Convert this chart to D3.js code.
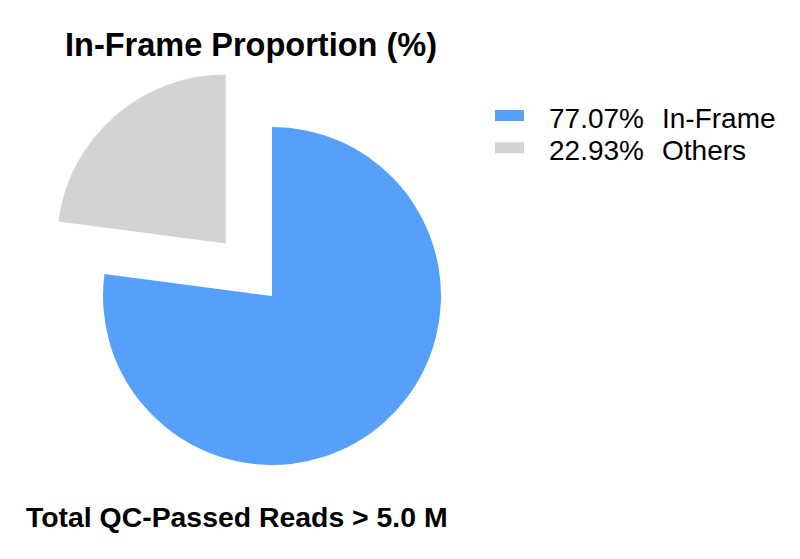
<!DOCTYPE html>
<html>
<head>
<meta charset="utf-8">
<script src="https://cdn.jsdelivr.net/npm/d3@7"></script>
<style>
  body { margin: 0; background: #fff; }
  text { font-family: "Liberation Sans", Arial, sans-serif; }
</style>
</head>
<body>
<svg id="chart"></svg>
<script>
// data
const categories = ["In-Frame", "Others"];
const percents = [77.07, 22.93];
const colors = ["#56a0fb", "#d3d3d3"];
const exploded = [false, true];

const width = 800;
const height = 559;
const cx = 272, cy = 296;
const radius = 169;
const explodeDist = 70;

const svg = d3.select('#chart')
  .attr('width', width)
  .attr('height', height);

const pie = d3.pie().sort(null).value(d => d.value);
const arc = d3.arc().innerRadius(0).outerRadius(radius);

const slices = pie(categories.map((c, i) => ({ name: c, value: percents[i], color: colors[i], explode: exploded[i] })));

const g = svg.append('g').attr('transform', `translate(${cx},${cy})`);

g.selectAll('path')
  .data(slices)
  .enter().append('path')
  .attr('d', arc)
  .attr('fill', d => d.data.color)
  .attr('transform', d => {
    if (!d.data.explode) return null;
    const mid = (d.startAngle + d.endAngle) / 2;
    return `translate(${Math.sin(mid) * explodeDist},${-Math.cos(mid) * explodeDist})`;
  });

// title
svg.append('text')
  .attr('x', 251)
  .attr('y', 56)
  .attr('text-anchor', 'middle')
  .style('font-size', '32.5px')
  .style('font-weight', 'bold')
  .text('In-Frame Proportion (%)');

// legend
const legend = svg.append('g').attr('transform', 'translate(495,110)');
const rows = legend.selectAll('g')
  .data(slices)
  .enter().append('g')
  .attr('transform', (d, i) => `translate(0,${i * 32.3})`);
rows.append('rect')
  .attr('x', 0).attr('y', 0)
  .attr('width', 29).attr('height', 11)
  .attr('fill', d => d.data.color);
const lt = rows.append('text')
  .attr('y', 18)
  .style('font-size', '28px');
lt.append('tspan').attr('x', 54).text(d => `${d.data.value.toFixed(2)}%`);
lt.append('tspan').attr('x', 167).text(d => d.data.name);

// footer
svg.append('text')
  .attr('x', 26)
  .attr('y', 527)
  .style('font-size', '28.4px')
  .style('font-weight', 'bold')
  .text('Total QC-Passed Reads > 5.0 M');
</script>
</body>
</html>
